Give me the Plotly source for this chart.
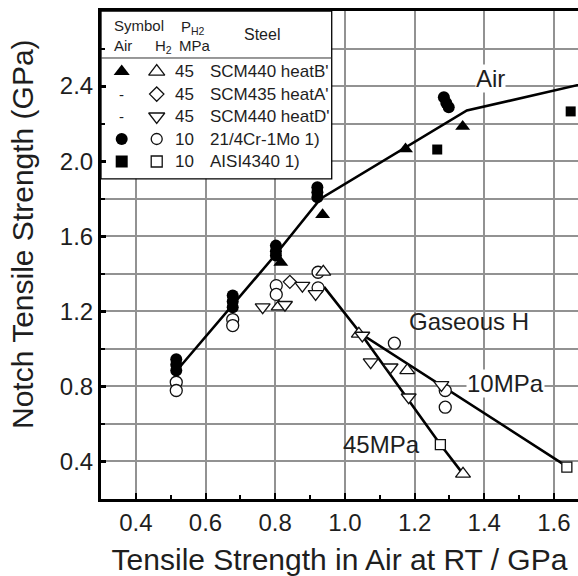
import plotly.graph_objects as go

# ---------------- data ----------------
# Air (filled symbols)
air_B_x = [0.816, 0.936, 1.174, 1.338]
air_B_y = [1.46, 1.715, 2.065, 2.184]
air_Cr_x = [0.516, 0.516, 0.516, 0.678, 0.678, 0.678, 0.802, 0.802, 0.802,
            0.921, 0.921, 0.921, 1.284, 1.291, 1.298]
air_Cr_y = [0.945, 0.915, 0.885, 1.284, 1.252, 1.222, 1.55, 1.52, 1.497,
            1.861, 1.834, 1.807, 2.34, 2.31, 2.287]
air_AISI_x = [1.265, 1.648]
air_AISI_y = [2.062, 2.265]

# Gaseous hydrogen (open symbols)
h2_B_x = [0.81, 0.938, 1.04, 1.179, 1.339]
h2_B_y = [1.225, 1.41, 1.08, 0.885, 0.334]
h2_A_x = [0.842]
h2_A_y = [1.357]
h2_D_x = [0.764, 0.828, 0.878, 0.916, 1.05, 1.074, 1.131, 1.183, 1.277]
h2_D_y = [1.222, 1.235, 1.337, 1.293, 1.071, 0.929, 0.902, 0.742, 0.808]
h2_Cr_x = [0.516, 0.516, 0.678, 0.678, 0.803, 0.803, 0.923, 0.923, 1.142, 1.288, 1.288]
h2_Cr_y = [0.822, 0.778, 1.156, 1.124, 1.337, 1.29, 1.408, 1.325, 1.03, 0.778, 0.689]
h2_AISI_x = [1.274, 1.637]
h2_AISI_y = [0.49, 0.37]

# trend lines
air_line_x = [0.52, 0.68, 0.80, 0.93, 1.35, 1.75]
air_line_y = [0.89, 1.24, 1.50, 1.80, 2.27, 2.44]
h10_line_x = [0.94, 1.046, 1.64]
h10_line_y = [1.33, 1.08, 0.37]
h45_line_x = [1.046, 1.274, 1.339]
h45_line_y = [1.08, 0.49, 0.334]

# legend table
leg_air_sym = ["triangle-up", None, None, "circle", "square"]
leg_h2_sym = ["triangle-up", "diamond", "triangle-down", "circle", "square"]
leg_press = ["45", "45", "45", "10", "10"]
leg_steel = ["SCM440 heatB'", "SCM435 heatA'", "SCM440 heatD'", "21/4Cr-1Mo 1)", "AISI4340 1)"]

x_ticks = [0.4, 0.6, 0.8, 1.0, 1.2, 1.4, 1.6]
y_ticks = [0.4, 0.8, 1.2, 1.6, 2.0, 2.4]

FONT = "Arial, Liberation Sans, sans-serif"
TXT = "#1e1e1e"

fig = go.Figure()

line_style = dict(color="black", width=2.6)
for lx, ly in [(air_line_x, air_line_y), (h10_line_x, h10_line_y), (h45_line_x, h45_line_y)]:
    fig.add_trace(go.Scatter(x=lx, y=ly, mode="lines", line=line_style,
                             hoverinfo="skip", showlegend=False))

def filled(x, y, sym, size):
    fig.add_trace(go.Scatter(x=x, y=y, mode="markers", showlegend=False,
                             marker=dict(symbol=sym, size=size, color="black",
                                         line=dict(color="black", width=0))))

def hollow(x, y, sym, size):
    fig.add_trace(go.Scatter(x=x, y=y, mode="markers", showlegend=False,
                             marker=dict(symbol=sym, size=size, color="white",
                                         line=dict(color="#111", width=1.3))))

hollow(h2_Cr_x, h2_Cr_y, "circle", 12)
hollow(h2_B_x, h2_B_y, "triangle-up", 13)
hollow(h2_A_x, h2_A_y, "diamond", 10)
hollow(h2_D_x, h2_D_y, "triangle-down", 13)
hollow(h2_AISI_x, h2_AISI_y, "square", 10)
filled(air_Cr_x, air_Cr_y, "circle", 12)
filled(air_B_x, air_B_y, "triangle-up", 13)
filled(air_AISI_x, air_AISI_y, "square", 10)

# ---------------- legend table (overlay axes, 0..1 of plot area) ----------------
box_r, box_b, sep_y = 0.4837, 0.656, 0.9037
fig.add_trace(go.Scatter(x=[0, box_r, box_r, 0, 0], y=[box_b, box_b, 1, 1, box_b],
                         xaxis="x2", yaxis="y2", mode="lines", fill="toself",
                         fillcolor="white", line=dict(color="black", width=1.3),
                         hoverinfo="skip", showlegend=False))
fig.add_trace(go.Scatter(x=[0, box_r], y=[sep_y, sep_y], xaxis="x2", yaxis="y2",
                         mode="lines", line=dict(color="#333", width=1),
                         hoverinfo="skip", showlegend=False))

row_y = [0.8758, 0.8297, 0.7838, 0.7377, 0.6916]
col_air, col_h2, col_p, col_steel = 0.0434, 0.1168, 0.1746, 0.225
for i in range(len(leg_steel)):
    if leg_air_sym[i]:
        fig.add_trace(go.Scatter(x=[col_air], y=[row_y[i]], xaxis="x2", yaxis="y2",
                                 mode="markers", showlegend=False, hoverinfo="skip",
                                 marker=dict(symbol=leg_air_sym[i], size=14 if "tri" in leg_air_sym[i] else 12,
                                             color="black")))
    fig.add_trace(go.Scatter(x=[col_h2], y=[row_y[i]], xaxis="x2", yaxis="y2",
                             mode="markers", showlegend=False, hoverinfo="skip",
                             marker=dict(symbol=leg_h2_sym[i], size=14 if "tri" in leg_h2_sym[i] else 11,
                                         color="white", line=dict(color="#111", width=1.3))))

def pann(x, y, text, font, xanchor="center"):
    return dict(x=x, y=y, xref="paper", yref="paper", text=text, showarrow=False,
                xanchor=xanchor, yanchor="middle", font=font)

ann = []
rowf = dict(size=17, color=TXT, family=FONT)
for i in range(len(leg_steel)):
    if not leg_air_sym[i]:
        ann.append(pann(col_air, row_y[i], "-", dict(size=15, color=TXT, family=FONT)))
    ann.append(pann(col_p, row_y[i], leg_press[i], rowf))
    ann.append(pann(col_steel, row_y[i], leg_steel[i], rowf, xanchor="left"))

hdr = dict(size=15, color=TXT, family=FONT)
ann += [
    pann(0.0797, 0.971, "Symbol", hdr),
    pann(0.193, 0.966, "P<sub>H2</sub>", hdr),
    pann(0.337, 0.951, "Steel", dict(size=16, color=TXT, family=FONT)),
    pann(0.046, 0.929, "Air", hdr),
    pann(0.13, 0.927, "H<sub>2</sub>", hdr),
    pann(0.197, 0.929, "MPa", hdr),
]

# axis title for y placed as in the reference
ann.append(dict(x=-0.1656, y=0.543, xref="paper", yref="paper", text="Notch Tensile Strength (GPa)",
                textangle=-90, showarrow=False, xanchor="center", yanchor="middle",
                font=dict(size=30, color=TXT, family=FONT)))

lab = dict(size=24, color=TXT, family=FONT)
ann += [
    dict(x=1.417, y=2.443, text="Air", showarrow=False, font=lab, bgcolor="white", borderpad=0),
    dict(x=1.355, y=1.147, text="Gaseous H", showarrow=False, font=lab),
    dict(x=1.462, y=0.814, text="10MPa", showarrow=False, font=lab, bgcolor="white", borderpad=0),
    dict(x=1.105, y=0.49, text="45MPa", showarrow=False, font=lab),
]

grid_col = "#929292"
fig.update_layout(
    width=578, height=576,
    margin=dict(l=101, r=0, t=11, b=77),
    paper_bgcolor="white", plot_bgcolor="white",
    font=dict(family=FONT, color=TXT),
    showlegend=False,
    annotations=ann,
    xaxis=dict(range=[0.3, 1.669], tickvals=x_ticks, ticktext=[f"{v:.1f}" for v in x_ticks],
               ticks="inside", ticklen=6, tickwidth=2, tickcolor="black",
               minor=dict(dtick=0.1, tick0=0.3, ticks="inside", ticklen=4, tickwidth=2,
                          tickcolor="black", showgrid=False),
               showgrid=True, gridcolor=grid_col, gridwidth=1.5,
               showline=True, linecolor="black", linewidth=3, mirror=True,
               zeroline=False, tickfont=dict(size=24, color=TXT),
               title=dict(text="Tensile Strength in Air at RT / GPa", font=dict(size=30, color=TXT),
                          standoff=18)),
    yaxis=dict(range=[0.2, 2.8], tickvals=y_ticks, ticktext=[f"{v:.1f}" for v in y_ticks],
               ticks="inside", ticklen=5, tickwidth=2.5, tickcolor="black",
               minor=dict(dtick=0.2, tick0=0.2, ticks="inside", ticklen=4, tickwidth=2,
                          tickcolor="black", showgrid=True, gridcolor=grid_col, gridwidth=1.5),
               showgrid=True, gridcolor=grid_col, gridwidth=1.5,
               showline=True, linecolor="black", linewidth=3, mirror=False,
               zeroline=False, tickfont=dict(size=24, color=TXT)),
    xaxis2=dict(overlaying="x", range=[0, 1], visible=False, fixedrange=True),
    yaxis2=dict(overlaying="y", range=[0, 1], visible=False, fixedrange=True),
)

fig.write_html("out.html", config={"displayModeBar": False},
               post_script="document.body.style.margin='0';")
